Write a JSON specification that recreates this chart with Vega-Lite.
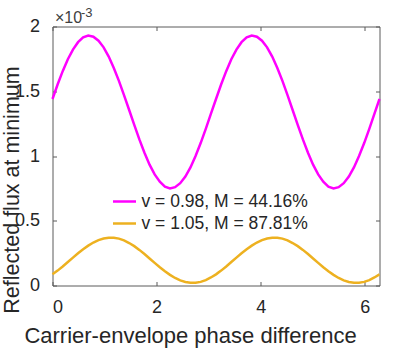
{
  "$schema": "https://vega.github.io/schema/vega-lite/v6.json",
  "width": 327,
  "height": 259,
  "autosize": "none",
  "padding": {"left": 52.5, "top": 26.5, "right": 27, "bottom": 74},
  "background": "white",
  "config": {
    "font": "Liberation Sans",
    "view": {"stroke": "#5a5a5a", "strokeWidth": 1},
    "axis": {
      "grid": false,
      "domain": false,
      "tickColor": "#5a5a5a",
      "tickSize": -4,
      "labelColor": "#262626",
      "labelFontSize": 18,
      "titleColor": "#262626",
      "titleFontWeight": "normal"
    }
  },
  "datasets": {
    "curves": [
      {"x": 0, "low": 1.440, "high": 0.086},
      {"x": 0.098, "low": 1.552, "high": 0.115},
      {"x": 0.196, "low": 1.655, "high": 0.147},
      {"x": 0.295, "low": 1.747, "high": 0.181},
      {"x": 0.393, "low": 1.822, "high": 0.215},
      {"x": 0.491, "low": 1.879, "high": 0.249},
      {"x": 0.589, "low": 1.916, "high": 0.280},
      {"x": 0.687, "low": 1.930, "high": 0.308},
      {"x": 0.785, "low": 1.921, "high": 0.332},
      {"x": 0.884, "low": 1.890, "high": 0.351},
      {"x": 0.982, "low": 1.839, "high": 0.363},
      {"x": 1.080, "low": 1.768, "high": 0.369},
      {"x": 1.178, "low": 1.680, "high": 0.369},
      {"x": 1.276, "low": 1.580, "high": 0.362},
      {"x": 1.374, "low": 1.470, "high": 0.348},
      {"x": 1.473, "low": 1.355, "high": 0.328},
      {"x": 1.571, "low": 1.240, "high": 0.304},
      {"x": 1.669, "low": 1.128, "high": 0.275},
      {"x": 1.767, "low": 1.025, "high": 0.243},
      {"x": 1.865, "low": 0.933, "high": 0.209},
      {"x": 1.963, "low": 0.858, "high": 0.175},
      {"x": 2.062, "low": 0.801, "high": 0.141},
      {"x": 2.160, "low": 0.764, "high": 0.110},
      {"x": 2.258, "low": 0.750, "high": 0.082},
      {"x": 2.356, "low": 0.759, "high": 0.058},
      {"x": 2.454, "low": 0.790, "high": 0.039},
      {"x": 2.553, "low": 0.841, "high": 0.027},
      {"x": 2.651, "low": 0.912, "high": 0.021},
      {"x": 2.749, "low": 1.000, "high": 0.021},
      {"x": 2.847, "low": 1.100, "high": 0.028},
      {"x": 2.945, "low": 1.210, "high": 0.042},
      {"x": 3.043, "low": 1.325, "high": 0.062},
      {"x": 3.142, "low": 1.440, "high": 0.086},
      {"x": 3.240, "low": 1.552, "high": 0.115},
      {"x": 3.338, "low": 1.655, "high": 0.147},
      {"x": 3.436, "low": 1.747, "high": 0.181},
      {"x": 3.534, "low": 1.822, "high": 0.215},
      {"x": 3.632, "low": 1.879, "high": 0.249},
      {"x": 3.731, "low": 1.916, "high": 0.280},
      {"x": 3.829, "low": 1.930, "high": 0.308},
      {"x": 3.927, "low": 1.921, "high": 0.332},
      {"x": 4.025, "low": 1.890, "high": 0.351},
      {"x": 4.123, "low": 1.839, "high": 0.363},
      {"x": 4.222, "low": 1.768, "high": 0.369},
      {"x": 4.320, "low": 1.680, "high": 0.369},
      {"x": 4.418, "low": 1.580, "high": 0.362},
      {"x": 4.516, "low": 1.470, "high": 0.348},
      {"x": 4.614, "low": 1.355, "high": 0.328},
      {"x": 4.712, "low": 1.240, "high": 0.304},
      {"x": 4.811, "low": 1.128, "high": 0.275},
      {"x": 4.909, "low": 1.025, "high": 0.243},
      {"x": 5.007, "low": 0.933, "high": 0.209},
      {"x": 5.105, "low": 0.858, "high": 0.175},
      {"x": 5.203, "low": 0.801, "high": 0.141},
      {"x": 5.301, "low": 0.764, "high": 0.110},
      {"x": 5.400, "low": 0.750, "high": 0.082},
      {"x": 5.498, "low": 0.759, "high": 0.058},
      {"x": 5.596, "low": 0.790, "high": 0.039},
      {"x": 5.694, "low": 0.841, "high": 0.027},
      {"x": 5.792, "low": 0.912, "high": 0.021},
      {"x": 5.890, "low": 1.000, "high": 0.021},
      {"x": 5.989, "low": 1.100, "high": 0.028},
      {"x": 6.087, "low": 1.210, "high": 0.042},
      {"x": 6.185, "low": 1.325, "high": 0.062},
      {"x": 6.283, "low": 1.440, "high": 0.086}
    ],
    "exponent": [{"x": 0, "y": 2, "base": "×10", "power": "-3"}]
  },
  "resolve": {"axis": {"x": "independent", "y": "independent"}},
  "layer": [
    {
      "data": {"name": "curves"},
      "transform": [{"fold": ["low", "high"], "as": ["series", "flux"]}],
      "mark": {"type": "line", "strokeWidth": 2.5},
      "encoding": {
        "x": {
          "field": "x", "type": "quantitative",
          "scale": {"domain": [0, 6.2832], "nice": false, "zero": false},
          "axis": {
            "orient": "bottom", "values": [0, 2, 4, 6], "format": "d",
            "labelPadding": 17,
            "title": "Carrier-envelope phase difference",
            "titleFontSize": 22, "titleX": 137.5, "titleY": 57,
            "titleBaseline": "alphabetic", "titleAlign": "center", "titleAnchor": null
          }
        },
        "y": {
          "field": "flux", "type": "quantitative",
          "scale": {"domain": [0, 2], "nice": false},
          "axis": {
            "orient": "left", "values": [0, 0.5, 1, 1.5, 2], "format": "~g",
            "labelPadding": 17,
            "title": "Reflected flux at minimum",
            "titleFontSize": 21.5, "titleAngle": -90, "titleX": -34.5, "titleY": 163,
            "titleBaseline": "alphabetic", "titleAlign": "center", "titleAnchor": null
          }
        },
        "color": {
          "field": "series", "type": "nominal",
          "scale": {"domain": ["low", "high"], "range": ["#FF00FF", "#EDB120"]},
          "legend": {
            "title": null,
            "orient": "none",
            "legendX": 59,
            "legendY": 162,
            "symbolType": "stroke",
            "symbolSize": 529,
            "symbolStrokeWidth": 2.5,
            "labelFontSize": 17.5,
            "labelLimit": 0,
            "labelColor": "#262626",
            "labelOffset": 4,
            "rowPadding": -4.5,
            "labelExpr": "datum.label == 'low' ? 'v = 0.98, M = 44.16%' : 'v = 1.05, M = 87.81%'"
          }
        }
      }
    },
    {
      "data": {"name": "exponent"},
      "mark": {"type": "text", "align": "left", "baseline": "alphabetic", "dx": 2.5, "dy": -3.5, "fontSize": 16, "fontWeight": "normal", "color": "#404040"},
      "encoding": {
        "text": {"field": "base"},
        "x": {"field": "x", "type": "quantitative", "axis": {"orient": "top", "values": [0, 2, 4, 6], "labels": false, "title": null}},
        "y": {"field": "y", "type": "quantitative", "axis": {"orient": "right", "values": [0, 0.5, 1, 1.5, 2], "labels": false, "title": null}}
      }
    },
    {
      "data": {"name": "exponent"},
      "mark": {"type": "text", "align": "left", "baseline": "alphabetic", "dx": 28.5, "dy": -9.5, "fontSize": 13, "fontWeight": "normal", "color": "#404040"},
      "encoding": {
        "text": {"field": "power"},
        "x": {"field": "x", "type": "quantitative", "axis": null},
        "y": {"field": "y", "type": "quantitative", "axis": null}
      }
    }
  ]
}
